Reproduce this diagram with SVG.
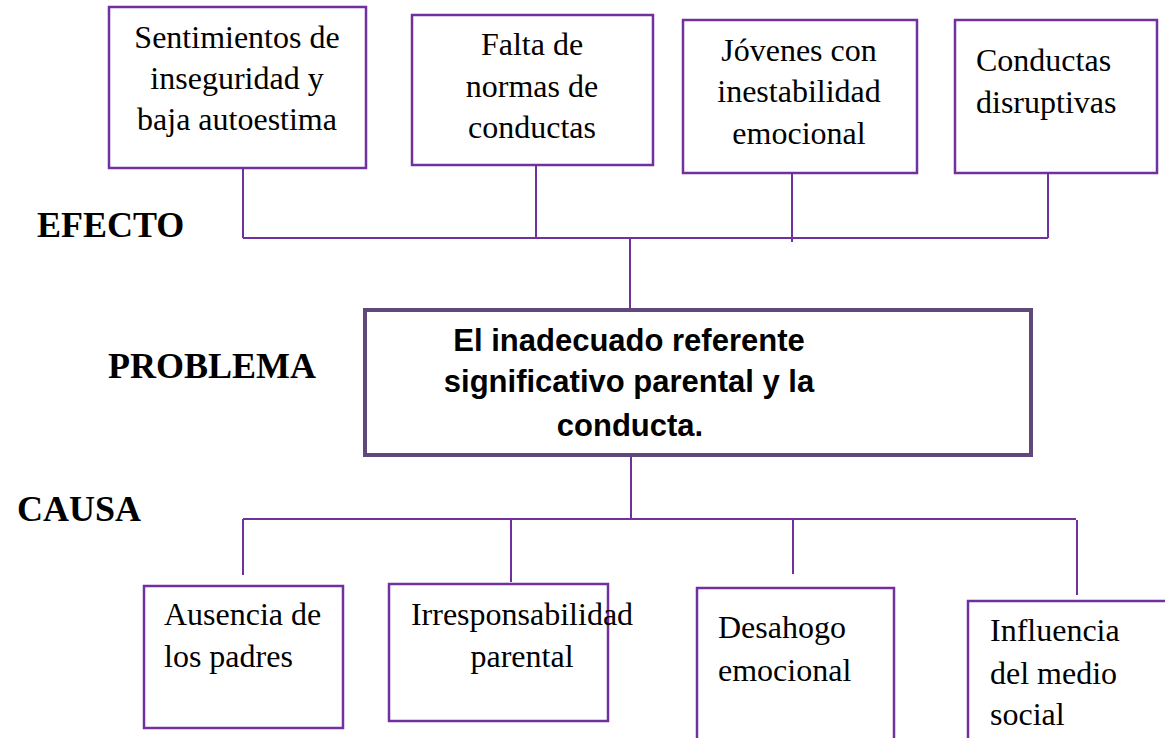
<svg xmlns="http://www.w3.org/2000/svg" width="1165" height="738" viewBox="0 0 1165 738">
<style>
.box{fill:#fff;stroke:#7030A0;stroke-width:2.5}
.pbox{fill:#fff;stroke:#5F497A;stroke-width:4}
.ln{stroke:#7030A0;stroke-width:2;fill:none}
.t{font-family:"Liberation Serif","Times New Roman",serif;font-size:32px;fill:#000}
.c{text-anchor:middle}
.lbl{font-family:"Liberation Serif","Times New Roman",serif;font-size:36px;font-weight:bold;fill:#000}
.pt{font-family:"Liberation Sans",Arial,sans-serif;font-size:31px;font-weight:bold;fill:#000;text-anchor:middle}
</style>
<rect width="1165" height="738" fill="#fff"/>
<g id="connectors">
<path class="ln" d="M243 168V238M536 165V238M792 173V242M1048 173V238M243 238H1048M630 238V310"/>
<path class="ln" d="M631 455V519M243 519H1076M243 519V575M511 519V582M793 519V574M1077 520V595"/>
</g>
<g id="lbl-efecto"><text class="lbl" x="37" y="237">EFECTO</text></g>
<g id="lbl-problema"><text class="lbl" x="108" y="378">PROBLEMA</text></g>
<g id="lbl-causa"><text class="lbl" x="17" y="521">CAUSA</text></g>
<g id="e1"><rect class="box" x="109" y="7" width="257" height="161"/>
<text class="t c" x="237" y="48">Sentimientos de</text>
<text class="t c" x="237" y="89">inseguridad y</text>
<text class="t c" x="237" y="130">baja autoestima</text></g>
<g id="e2"><rect class="box" x="412" y="15" width="241" height="150"/>
<text class="t c" x="532" y="55">Falta de</text>
<text class="t c" x="532" y="97">normas de</text>
<text class="t c" x="532" y="138">conductas</text></g>
<g id="e3"><rect class="box" x="683" y="20" width="234" height="153"/>
<text class="t c" x="799" y="61">Jóvenes con</text>
<text class="t c" x="799" y="102">inestabilidad</text>
<text class="t c" x="799" y="144">emocional</text></g>
<g id="e4"><rect class="box" x="955" y="20" width="202" height="153"/>
<text class="t" x="976" y="71">Conductas</text>
<text class="t" x="976" y="113">disruptivas</text></g>
<g id="problema"><rect class="pbox" x="365" y="310" width="666" height="145"/>
<text class="pt" x="629" y="351">El inadecuado referente</text>
<text class="pt" x="629" y="392">significativo parental y la</text>
<text class="pt" x="630" y="436">conducta.</text></g>
<g id="c1"><rect class="box" x="144" y="586" width="199" height="142"/>
<text class="t" x="164" y="625">Ausencia de</text>
<text class="t" x="164" y="667">los padres</text></g>
<g id="c2"><rect class="box" x="389" y="584" width="219" height="137"/>
<text class="t c" x="522" y="625">Irresponsabilidad</text>
<text class="t c" x="522" y="667">parental</text></g>
<g id="c3"><rect class="box" x="697" y="588" width="197" height="160"/>
<text class="t" x="718" y="638">Desahogo</text>
<text class="t" x="718" y="681">emocional</text></g>
<g id="c4"><rect class="box" x="968" y="601" width="207" height="150"/>
<text class="t" x="990" y="641">Influencia</text>
<text class="t" x="990" y="684">del medio</text>
<text class="t" x="990" y="725">social</text></g>
</svg>
